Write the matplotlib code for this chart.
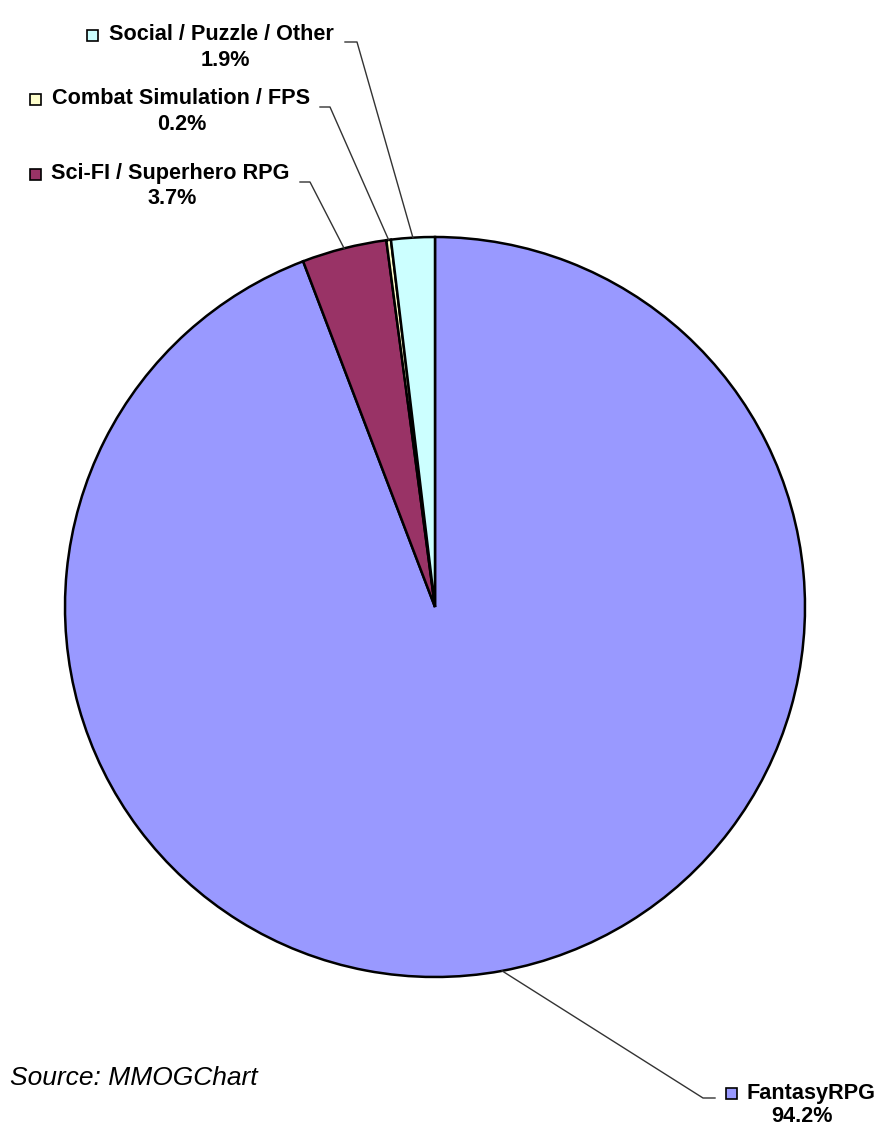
import numpy as np
import matplotlib
matplotlib.use("Agg")
import matplotlib.pyplot as plt
from matplotlib.patches import Rectangle

categories = ["Fantasy RPG", "Sci-FI / Superhero RPG", "Combat Simulation / FPS", "Social / Puzzle / Other"]
display_names = ["FantasyRPG", "Sci-FI / Superhero RPG", "Combat Simulation / FPS", "Social / Puzzle / Other"]
shares = [94.2, 3.7, 0.2, 1.9]
colors = ["#9999FF", "#993366", "#FFFFCC", "#CCFFFF"]

W, H = 891, 1127
fig = plt.figure(figsize=(W / 100, H / 100), dpi=100)
ax = fig.add_axes([0, 0, 1, 1])

cx, cy, R = 435, H - 607, 370
wedges, _ = ax.pie(shares, colors=colors, startangle=90, counterclock=False,
                   center=(cx, cy), radius=R, frame=True,
                   wedgeprops=dict(edgecolor="black", linewidth=1.8))
ax.set_xlim(0, W)
ax.set_ylim(0, H)
ax.set_aspect("equal")
ax.axis("off")

# label layout: (marker x, text-left x, name y, pct x, pct y, elbow start x, elbow end x, elbow y)
layout = {
    0: dict(mx=731, tx=746, ny=1093, px=802, py=1117, hx0=715, hx1=703, hy=1098),
    1: dict(mx=35, tx=51, ny=174, px=172, py=198, hx0=300, hx1=310, hy=182),
    2: dict(mx=35, tx=52, ny=99, px=182, py=124, hx0=320, hx1=330, hy=107),
    3: dict(mx=92, tx=109, ny=35, px=225, py=61, hx0=345, hx1=357, hy=42),
}

fs = 15.6
for i, w in enumerate(wedges):
    L = layout[i]
    ang = np.deg2rad((w.theta1 + w.theta2) / 2)
    ex, ey = cx + R * np.cos(ang), cy + R * np.sin(ang)
    ax.plot([L["hx0"], L["hx1"], ex], [H - L["hy"], H - L["hy"], ey],
            color="#333333", lw=1.0, zorder=3)
    ax.add_patch(Rectangle((L["mx"] - 5.5, H - L["ny"] - 5.5), 11, 11,
                           facecolor=colors[i], edgecolor="black", lw=1.2, zorder=4))
    ax.text(L["tx"], H - L["ny"], display_names[i], ha="left", va="center",
            fontsize=fs, fontweight="bold", family="Liberation Sans")
    ax.text(L["px"], H - L["py"], f"{shares[i]:.1f}%", ha="center", va="center",
            fontsize=fs, fontweight="bold", family="Liberation Sans")

ax.text(10, H - 1078, "Source: MMOGChart", ha="left", va="center",
        fontsize=19, style="italic", family="Liberation Sans")

fig.savefig("out.png", dpi=100)
